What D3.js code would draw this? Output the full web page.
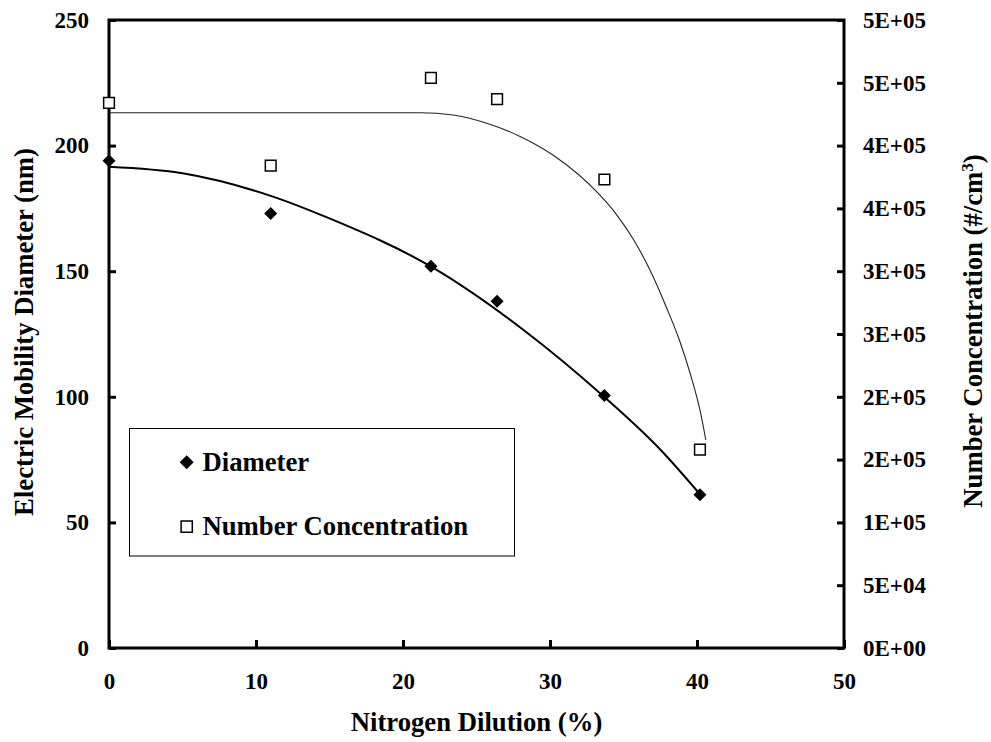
<!DOCTYPE html>
<html>
<head>
<meta charset="utf-8">
<script src="https://cdn.jsdelivr.net/npm/d3@7"></script>
<style>
  body { margin: 0; background: #fff; }
  svg { display: block; }
  svg text { font-family: "Liberation Serif", "Times New Roman", serif; font-weight: bold; fill: #000; }
</style>
</head>
<body>
<div id="chart"></div>
<script>
// measured points
var dilution = [0, 11, 21.9, 26.4, 33.7, 40.2];
var diameter = [194, 173, 152, 138, 100.5, 61];
var numberConc = [434000, 384000, 454000, 437000, 373000, 158000];

// trend curves
var diamFitX = [0, 5, 11, 15, 22, 28.2, 33.6, 37.5, 40.2];
var diamFitY = [191.6, 189, 180, 171, 151.5, 126.6, 100.4, 79, 61.2];
var concFitX = [0, 21.2, 23.4, 25.7, 28.0, 30.2, 33.4, 34.5, 35.7, 36.8, 37.9, 38.8, 39.6, 40.2, 40.6];
var concFitY = [426200, 426200, 424400, 417800, 407100, 392500, 360500, 345500, 324800, 300900, 271700, 245200, 216000, 189500, 165600];

// axes
var xTicks = [0, 10, 20, 30, 40, 50];
var leftTicks = [0, 50, 100, 150, 200, 250];
var rightTicks = [0, 50000, 100000, 150000, 200000, 250000, 300000, 350000, 400000, 450000, 500000];
var rightTickLabels = ["0E+00", "5E+04", "1E+05", "2E+05", "2E+05", "3E+05", "3E+05", "4E+05", "4E+05", "5E+05", "5E+05"];

var W = 991, H = 742;
var pLeft = 109, pRight = 844, pTop = 20, pBottom = 648;
var serif = "'Liberation Serif', 'Times New Roman', serif";

var svg = d3.select("#chart").append("svg")
    .attr("width", W)
    .attr("height", H);

var x = d3.scaleLinear().domain([0, 50]).range([pLeft, pRight]);
var yL = d3.scaleLinear().domain([0, 250]).range([pBottom, pTop]);
var yR = d3.scaleLinear().domain([0, 500000]).range([pBottom, pTop]);

var xAxis = d3.axisBottom(x).tickValues(xTicks).tickSize(-8).tickSizeOuter(0).tickPadding(25);
var yAxisL = d3.axisLeft(yL).tickValues(leftTicks).tickSize(-7).tickSizeOuter(0).tickPadding(20);
var yAxisR = d3.axisRight(yR).tickValues(rightTicks).tickSize(-7).tickSizeOuter(0).tickPadding(19)
    .tickFormat(function(d, i) { return rightTickLabels[i]; });

function styleAxis(g) {
    g.attr("font-family", serif).attr("font-size", 23);
    g.select(".domain").remove();
    g.selectAll(".tick line").attr("stroke", "#000").attr("stroke-width", 3);
    g.selectAll(".tick text")
        .attr("fill", "#000")
        .style("font-size", "23px")
        .style("font-family", serif)
        .style("font-weight", "bold");
}

svg.append("g").attr("transform", "translate(0," + pBottom + ")").call(xAxis).call(styleAxis);
svg.append("g").attr("transform", "translate(" + pLeft + ",0)").call(yAxisL).call(styleAxis);
svg.append("g").attr("transform", "translate(" + pRight + ",0)").call(yAxisR).call(styleAxis);

// plot frame
svg.append("rect")
    .attr("x", pLeft).attr("y", pTop)
    .attr("width", pRight - pLeft).attr("height", pBottom - pTop)
    .attr("fill", "none").attr("stroke", "#000").attr("stroke-width", 3);

// axis titles
function title(sel) {
    return sel.attr("text-anchor", "middle")
        .style("font-family", serif)
        .style("font-weight", "bold")
        .style("font-size", "26.7px");
}

svg.append("text")
    .attr("x", (pLeft + pRight) / 2).attr("y", 731)
    .call(title)
    .text("Nitrogen Dilution (%)");

svg.append("text")
    .attr("transform", "translate(33," + ((pTop + pBottom) / 2 - 2) + ") rotate(-90)")
    .call(title)
    .text("Electric Mobility Diameter (nm)");

var rt = svg.append("text")
    .attr("transform", "translate(982," + ((pTop + pBottom) / 2 - 3) + ") rotate(-90)")
    .call(title);
rt.append("tspan").text("Number Concentration (#/cm");
rt.append("tspan").attr("dy", "-0.55em").style("font-size", "17px").text("3");
rt.append("tspan").attr("dy", "0.35em").text(")");

// trend curves
var concLine = d3.line()
    .x(function(d, i) { return x(concFitX[i]); })
    .y(function(d) { return yR(d); })
    .curve(d3.curveMonotoneX);
svg.append("path")
    .attr("d", concLine(concFitY))
    .attr("fill", "none").attr("stroke", "#222").attr("stroke-width", 1.1);

var diamLine = d3.line()
    .x(function(d, i) { return x(diamFitX[i]); })
    .y(function(d) { return yL(d); })
    .curve(d3.curveMonotoneX);
svg.append("path")
    .attr("d", diamLine(diamFitY))
    .attr("fill", "none").attr("stroke", "#000").attr("stroke-width", 2);

// markers
var diamond = d3.symbol().type(d3.symbolSquare).size(85);
var square = d3.symbol().type(d3.symbolSquare).size(115);

svg.selectAll(".conc").data(numberConc).enter().append("path")
    .attr("class", "conc")
    .attr("d", square)
    .attr("transform", function(d, i) { return "translate(" + x(dilution[i]) + "," + yR(d) + ")"; })
    .attr("fill", "#fff").attr("stroke", "#000").attr("stroke-width", 1.5);

svg.selectAll(".diam").data(diameter).enter().append("path")
    .attr("class", "diam")
    .attr("d", diamond)
    .attr("transform", function(d, i) { return "translate(" + x(dilution[i]) + "," + yL(d) + ") rotate(45)"; })
    .attr("fill", "#000");

// legend
var lg = svg.append("g");
lg.append("rect")
    .attr("x", 129.5).attr("y", 428.5).attr("width", 385).attr("height", 127.5)
    .attr("fill", "none").attr("stroke", "#000").attr("stroke-width", 1);
lg.append("path")
    .attr("d", d3.symbol().type(d3.symbolSquare).size(98))
    .attr("transform", "translate(186.7,462.3) rotate(45)")
    .attr("fill", "#000");
lg.append("text").attr("x", 202.5).attr("y", 471).call(title).attr("text-anchor", "start").text("Diameter");
lg.append("path")
    .attr("d", d3.symbol().type(d3.symbolSquare).size(125))
    .attr("transform", "translate(186.7,526.7)")
    .attr("fill", "#fff").attr("stroke", "#000").attr("stroke-width", 1.5);
lg.append("text").attr("x", 202.5).attr("y", 535).call(title).attr("text-anchor", "start").text("Number Concentration");
</script>
</body>
</html>
